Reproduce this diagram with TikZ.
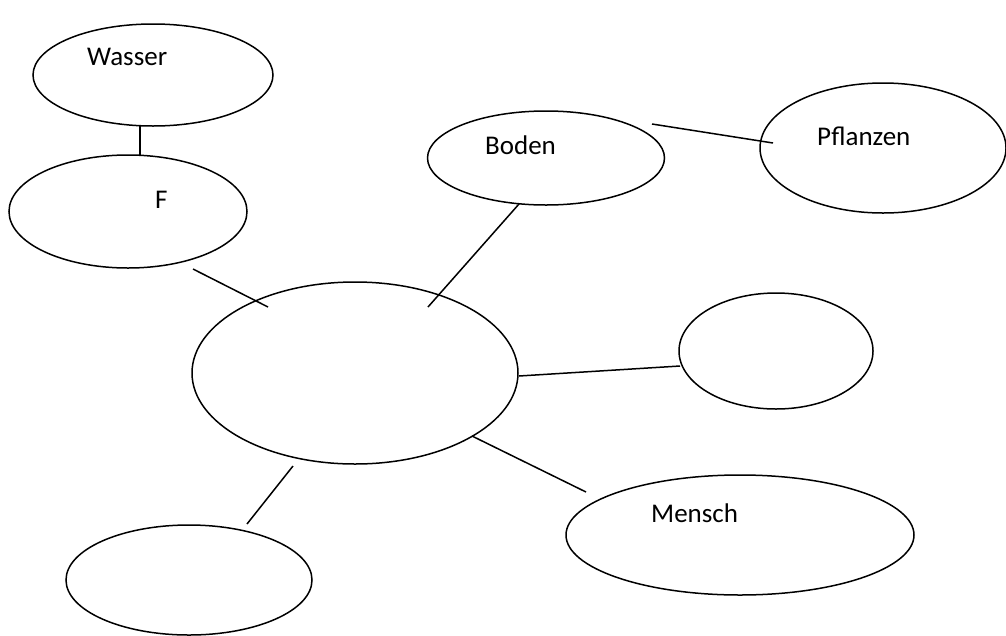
\documentclass[tikz,border=0pt]{standalone}
\usepackage{fontspec}
\setmainfont{Carlito}
\usetikzlibrary{shapes.geometric}
\tikzset{
  bubble/.style={ellipse, draw, line width=1.5pt, inner sep=0pt},
  lbl/.style={anchor=base west, inner sep=0pt, font=\fontsize{27}{31}\selectfont},
  link/.style={line width=1.5pt}
}
\begin{document}
\begin{tikzpicture}[x=1pt,y=-1pt]
\useasboundingbox (0,0) rectangle (1006,635);
% ellipses
\node[bubble, minimum width=240pt, minimum height=102pt] (wasser) at (153,75) {};
\node[bubble, minimum width=238pt, minimum height=113pt] (f) at (128,211.5) {};
\node[bubble, minimum width=237pt, minimum height=94pt] (boden) at (546,158) {};
\node[bubble, minimum width=246pt, minimum height=130pt] (pflanzen) at (883,148) {};
\node[bubble, minimum width=326pt, minimum height=182pt] (zentrum) at (355,373) {};
\node[bubble, minimum width=194pt, minimum height=116pt] (rechts) at (776,351) {};
\node[bubble, minimum width=348pt, minimum height=120pt] (mensch) at (740,535) {};
\node[bubble, minimum width=246pt, minimum height=110pt] (unten) at (189,580) {};
% labels
\node[lbl] (twasser) at (87,65) {Wasser};
\node[lbl] (tf) at (155,208) {F};
\node[lbl] (tboden) at (485,154) {Boden};
\node[lbl] (tpflanzen) at (817,145) {Pflanzen};
\node[lbl] (tmensch) at (651,522) {Mensch};
% connector end points
\coordinate (a1) at (140,125); \coordinate (a2) at (140,155);
\coordinate (b1) at (193,269); \coordinate (b2) at (268,307);
\coordinate (c1) at (519,204); \coordinate (c2) at (428,307);
\coordinate (d1) at (652,124); \coordinate (d2) at (773,143);
\coordinate (e1) at (519,376); \coordinate (e2) at (680,366);
\coordinate (g1) at (472,436); \coordinate (g2) at (586,492);
\coordinate (h1) at (293,466); \coordinate (h2) at (247,524);
% connectors
\draw[link] (a1) -- (a2);
\draw[link] (b1) -- (b2);
\draw[link] (c1) -- (c2);
\draw[link] (d1) -- (d2);
\draw[link] (e1) -- (e2);
\draw[link] (g1) -- (g2);
\draw[link] (h1) -- (h2);
\end{tikzpicture}
\end{document}
